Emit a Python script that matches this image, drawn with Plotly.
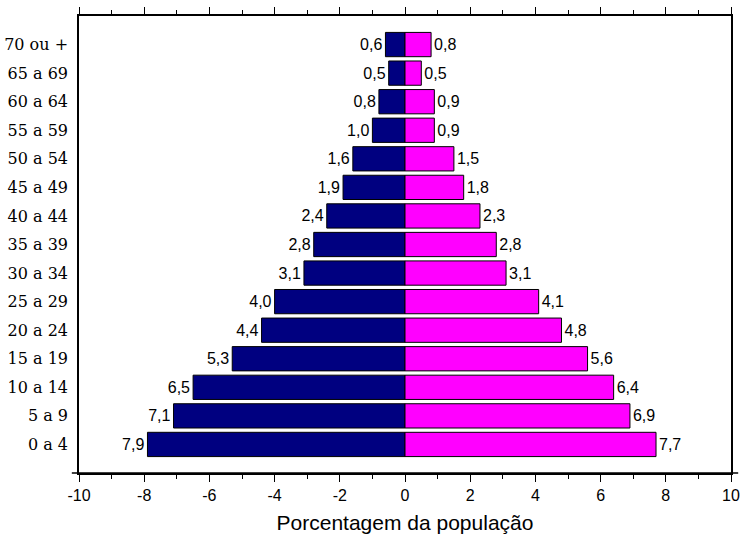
import plotly.graph_objects as go

categorias = ["0 a 4", "5 a 9", "10 a 14", "15 a 19", "20 a 24", "25 a 29", "30 a 34",
              "35 a 39", "40 a 44", "45 a 49", "50 a 54", "55 a 59", "60 a 64", "65 a 69", "70 ou +"]
homens = [7.9, 7.1, 6.5, 5.3, 4.4, 4.0, 3.1, 2.8, 2.4, 1.9, 1.6, 1.0, 0.8, 0.5, 0.6]
mulheres = [7.7, 6.9, 6.4, 5.6, 4.8, 4.1, 3.1, 2.8, 2.3, 1.8, 1.5, 0.9, 0.9, 0.5, 0.8]
x_ticks = [-10, -8, -6, -4, -2, 0, 2, 4, 6, 8, 10]

def fmt(v):
    return f"{v:.1f}".replace(".", ",")

fig = go.Figure()
fig.add_trace(go.Bar(
    y=categorias, x=[-v for v in homens], orientation="h",
    marker=dict(color="#000080", line=dict(color="black", width=1)),
    text=[fmt(v) for v in homens], textposition="outside", constraintext="none",
    textfont=dict(family="Liberation Sans", size=16, color="black"),
    width=0.85, cliponaxis=False, hoverinfo="skip"))
fig.add_trace(go.Bar(
    y=categorias, x=mulheres, orientation="h",
    marker=dict(color="#FF00FF", line=dict(color="black", width=1)),
    text=[fmt(v) for v in mulheres], textposition="outside", constraintext="none",
    textfont=dict(family="Liberation Sans", size=16, color="black"),
    width=0.85, cliponaxis=False, hoverinfo="skip"))

fig.add_shape(type="line", xref="paper", yref="paper", x0=-0.011, x1=1.011, y0=0, y1=0,
              line=dict(color="black", width=1.5))

fig.update_layout(
    width=748, height=536,
    margin=dict(l=79, r=17, t=16, b=63),
    barmode="overlay",
    showlegend=False,
    plot_bgcolor="white", paper_bgcolor="white",
    xaxis=dict(
        range=[-10, 10], tickvals=x_ticks, ticktext=[str(t) for t in x_ticks],
        showgrid=False, zeroline=False, automargin=False,
        showline=True, linecolor="black", linewidth=1.5, mirror="ticks",
        ticks="outside", ticklen=7, tickwidth=1.2, tickcolor="black",
        minor=dict(dtick=1, ticks="outside", ticklen=4, tickwidth=1, tickcolor="black", showgrid=False),
        tickfont=dict(family="Liberation Sans", size=16, color="black"),
        title=dict(text="Porcentagem da população", font=dict(family="Liberation Sans", size=21, color="black"), standoff=12),
    ),
    yaxis=dict(
        categoryorder="array", categoryarray=categorias,
        range=[-1, 15], automargin=False,
        showgrid=False, zeroline=False,
        showline=True, linecolor="black", linewidth=1.5, mirror=True,
        ticks="", ticklabelstandoff=6,
        tickfont=dict(family="DejaVu Serif", size=16, color="black"),
    ),
)

fig.write_html("out.html", config={"displayModeBar": False},
               post_script="document.body.style.margin='0';document.body.style.overflow='hidden';")
